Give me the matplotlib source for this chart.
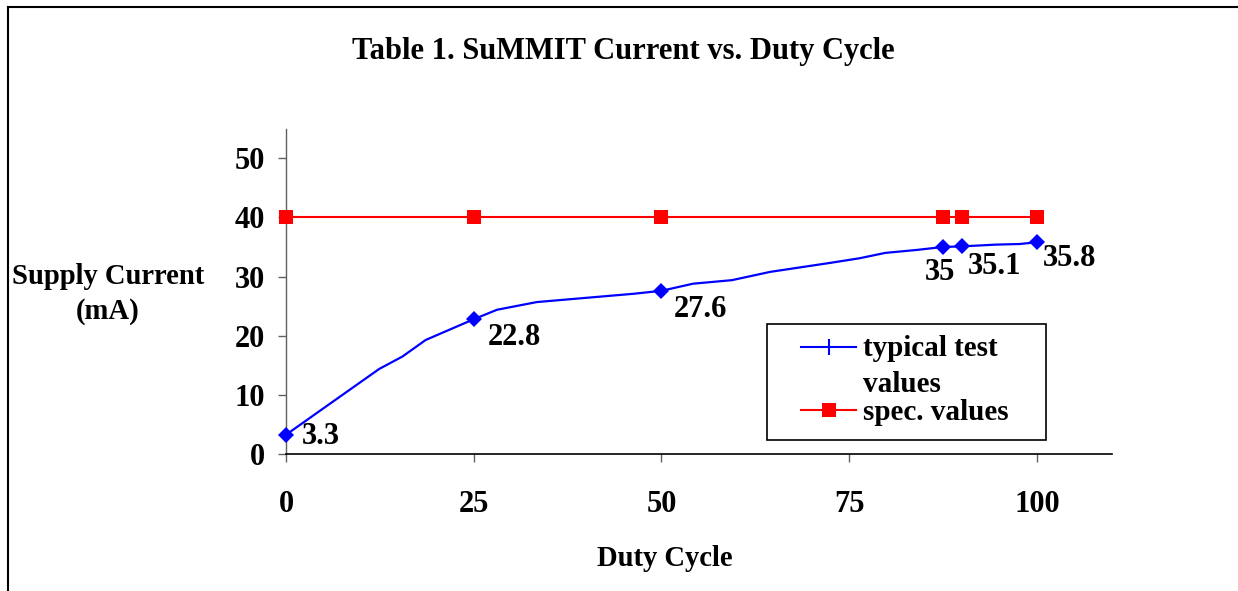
import matplotlib
matplotlib.use("Agg")
import matplotlib.pyplot as plt
from matplotlib.lines import Line2D
from matplotlib.patches import Rectangle

# ---- data ----
duty_curve = [0, 12.4, 15.5, 18.6, 25, 28.1, 33.4, 46.3, 50, 54.2, 59.4, 64.5,
              72.4, 76.4, 79.8, 84.0, 87.5, 90, 94.6, 97.7, 100]
current_curve = [3.3, 14.4, 16.5, 19.3, 22.8, 24.4, 25.7, 27.1, 27.6, 28.8, 29.4, 30.8,
                 32.3, 33.1, 34.0, 34.5, 35.0, 35.1, 35.4, 35.5, 35.8]
labeled_duty = [0, 25, 50, 87.5, 90, 100]
labeled_values = [3.3, 22.8, 27.6, 35, 35.1, 35.8]
label_texts = ["3.3", "22.8", "27.6", "35", "35.1", "35.8"]
spec_duty = [0, 25, 50, 87.5, 90, 100]
spec_values = [40, 40, 40, 40, 40, 40]
x_ticks = [0, 25, 50, 75, 100]
y_ticks = [0, 10, 20, 30, 40, 50]
legend_labels = ["typical test", "values", "spec. values"]

plt.rcParams['font.family'] = ['Liberation Serif', 'DejaVu Serif']
plt.rcParams['font.weight'] = 'bold'

W, H = 1238, 591
fig = plt.figure(figsize=(W / 100, H / 100), dpi=100)
ax = fig.add_axes([286 / W, 1 - 454.3 / H, (1112 - 286) / W, (454.3 - 128.5) / H])

BLUE = '#0000ff'
RED = '#ff0000'

ax.plot(spec_duty, spec_values, color=RED, lw=1.5, marker='s', ms=10,
        markeredgewidth=0, zorder=3, clip_on=False)
mark_idx = [duty_curve.index(d) for d in labeled_duty]
ax.plot(duty_curve, current_curve, color=BLUE, lw=1.6, marker='D', ms=8,
        markevery=mark_idx, markeredgewidth=0, zorder=4, clip_on=False)

offsets = [(16, -2, 'left'), (14, -18, 'left'), (12, -19, 'left'),
           (-3, -26, 'center'), (6, -20, 'left'), (6, -16, 'left')]
for x, y, t, (dx, dy, ha) in zip(labeled_duty, labeled_values, label_texts, offsets):
    ax.annotate(t, (x, y), xytext=(dx, dy), textcoords='offset pixels',
                ha=ha, va='center', fontsize=22, fontweight='bold')

ax.set_xlim(0, 110)
ax.set_ylim(0, 55)
ax.set_xticks(x_ticks)
ax.set_yticks(y_ticks)
ax.tick_params(axis='x', direction='out', length=6, width=1, color='#606060',
               pad=20, labelsize=22)
ax.tick_params(axis='y', direction='out', length=6, width=1, color='#606060',
               pad=9, labelsize=22)
for lab in ax.get_xticklabels() + ax.get_yticklabels():
    lab.set_fontweight('bold')
for s in ['top', 'right']:
    ax.spines[s].set_visible(False)
ax.spines['left'].set_color('#606060')
ax.spines['bottom'].set_color('black')
ax.spines['left'].set_linewidth(1)
ax.spines['bottom'].set_linewidth(1.2)

# legend (drawn in figure pixel positions)
def fx(px):
    return px / W

def fy(py):
    return 1 - py / H

fig.add_artist(Rectangle((fx(767), fy(440)), fx(1046) - fx(767), fy(324) - fy(440),
                         transform=fig.transFigure, fill=True, facecolor='white',
                         edgecolor='black', lw=1.2, zorder=5))
fig.add_artist(Line2D([fx(801), fx(856)], [fy(347), fy(347)], color=BLUE, lw=1.5,
                      transform=fig.transFigure, zorder=6))
fig.add_artist(Line2D([fx(828.5)], [fy(347)], color=BLUE, marker='|', ms=12, mew=1.5,
                      transform=fig.transFigure, zorder=6))
fig.add_artist(Line2D([fx(801), fx(856)], [fy(410), fy(410)], color=RED, lw=1.5,
                      transform=fig.transFigure, zorder=6))
fig.add_artist(Line2D([fx(828.5)], [fy(410)], color=RED, marker='s', ms=10, mew=0,
                      transform=fig.transFigure, zorder=6))
for lbl, py in zip(legend_labels, [349, 384, 412]):
    fig.text(fx(863), fy(py), lbl, ha='left', va='center', fontsize=21,
             fontweight='bold', zorder=7)

fig.text(623 / W, 1 - 51 / H, 'Table 1. SuMMIT Current vs. Duty Cycle',
         ha='center', va='center', fontsize=22, fontweight='bold')
fig.text(108 / W, 1 - 294 / H, 'Supply Current\n(mA)', ha='center', va='center',
         fontsize=20.6, fontweight='bold', linespacing=1.4)
fig.text(665 / W, 1 - 558 / H, 'Duty Cycle', ha='center', va='center',
         fontsize=20.6, fontweight='bold')

# outer frame (top and left edges)
fig.add_artist(Line2D([8 / W, 1.0], [1 - 7 / H, 1 - 7 / H], color='black', lw=1.5,
                      transform=fig.transFigure))
fig.add_artist(Line2D([8 / W, 8 / W], [1 - 7 / H, 0], color='black', lw=1.5,
                      transform=fig.transFigure))

fig.savefig('out.png', dpi=100)
